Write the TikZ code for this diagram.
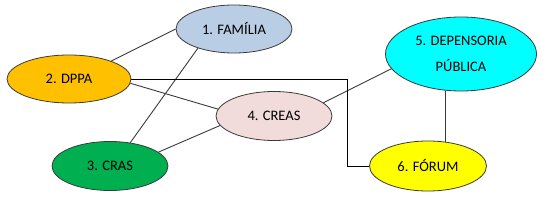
\documentclass[tikz,border=0pt]{standalone}
\usepackage{fontspec}
\setmainfont{Carlito}
\usetikzlibrary{shapes.geometric}
\definecolor{famfill}{HTML}{B9CDE5}
\definecolor{dppafill}{HTML}{FFC000}
\definecolor{crasfill}{HTML}{00B050}
\definecolor{creasfill}{HTML}{F2DCDB}
\definecolor{deffill}{HTML}{00FFFF}
\definecolor{forumfill}{HTML}{FFFF00}
\definecolor{edgegray}{HTML}{3A3A3A}
\begin{document}
\begin{tikzpicture}[x=1pt,y=-1pt,
  ent/.style={ellipse,draw=edgegray,line width=0.8pt,inner sep=0pt,
    font=\fontsize{14.5}{17}\selectfont,text=black},
  link/.style={draw=edgegray,line width=0.9pt},
  elbow/.style={draw=black,line width=0.9pt}]
\useasboundingbox (0,0) rectangle (548,205);
\node[ent,fill=famfill,minimum width=116pt,minimum height=48pt] (fam) at (234,29) {1. FAMÍLIA};
\node[ent,fill=dppafill,minimum width=124pt,minimum height=48pt] (dppa) at (69,79) {2. DPPA};
\node[ent,fill=crasfill,minimum width=116pt,minimum height=49pt] (cras) at (110,166) {3. CRAS};
\node[ent,fill=creasfill,minimum width=116pt,minimum height=49pt] (creas) at (274,116) {4. CREAS};
\node[ent,fill=deffill,minimum width=151pt,minimum height=74pt,align=center,
  font=\fontsize{14.5}{26}\selectfont] (def) at (461,54) {5. DEPENSORIA\\PÚBLICA};
\node[ent,fill=forumfill,minimum width=117pt,minimum height=50pt] (forum) at (428,166) {6. FÓRUM};
\coordinate (bend) at (347,0);
\draw[link] (dppa.23) -- (fam.west);
\draw[link] (fam.208) -- (cras.49);
\draw[link] (dppa.-4) -- (creas.173);
\draw[link] (cras.16) -- (creas.190);
\draw[link] (creas.15) -- (def.192);
\draw[link] (forum.55) -- (forum.55 |- def.south);
\draw[elbow] (dppa.east) -| (bend |- forum.west) -- (forum.west);
\end{tikzpicture}
\end{document}
